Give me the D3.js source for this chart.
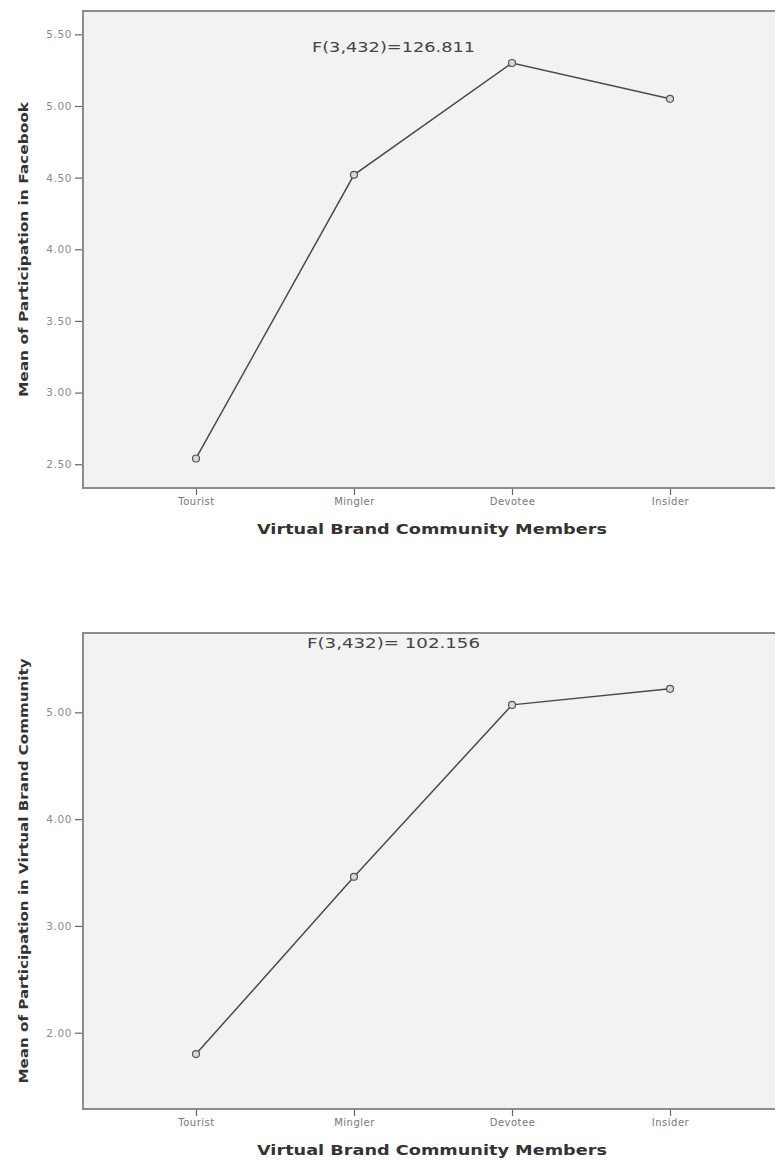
<!DOCTYPE html>
<html>
<head>
<meta charset="utf-8">
<script src="https://cdn.jsdelivr.net/npm/d3@7"></script>
<style>
  html, body { margin: 0; padding: 0; background: #fff; }
  svg { display: block; }
  text { font-family: "DejaVu Sans", Verdana, sans-serif; }
</style>
</head>
<body>
<script>
// ---- data ----
const categories = ["Tourist", "Mingler", "Devotee", "Insider"];
const facebookMeans = [2.54, 4.52, 5.30, 5.05];
const communityMeans = [1.80, 3.46, 5.07, 5.22];
const facebookTicks = [2.5, 3.0, 3.5, 4.0, 4.5, 5.0, 5.5];
const communityTicks = [2.0, 3.0, 4.0, 5.0];
const xTitle = "Virtual Brand Community Members";
const facebookYTitle = "Mean of Participation in Facebook";
const communityYTitle = "Mean of Participation in Virtual Brand Community";
const facebookStat = "F(3,432)=126.811";
const communityStat = "F(3,432)= 102.156";

const W = 775, H = 1160;
const svg = d3.select("body").append("svg").attr("width", W).attr("height", H);

function drawChart(cfg) {
  const g = svg.append("g");
  const left = 83, right = 783;
  const x = d3.scalePoint().domain(categories).range([left, right]).padding(0.715);
  const y = d3.scaleLinear().domain(cfg.yDomain).range([cfg.bottom, cfg.top]);

  // plot background + frame
  g.append("rect")
    .attr("x", left).attr("y", cfg.top)
    .attr("width", right - left).attr("height", cfg.bottom - cfg.top)
    .attr("fill", "#f2f2f2").attr("stroke", "#8c8c8c").attr("stroke-width", 2);

  // y axis
  const ya = g.append("g").attr("transform", `translate(${left - 1},0)`)
    .call(d3.axisLeft(y).tickValues(cfg.ticks).tickFormat(d3.format(".2f")).tickSize(7).tickPadding(3));
  ya.select(".domain").remove();
  ya.selectAll(".tick line").attr("stroke", "#666").attr("stroke-width", 1.2);
  ya.selectAll(".tick text").attr("fill", "#8a8a8a").style("font-size", "10.5px")
    .style("letter-spacing", "0.6px");

  // x axis
  const xa = g.append("g").attr("transform", `translate(0,${cfg.bottom + 1})`)
    .call(d3.axisBottom(x).tickSize(6).tickPadding(3));
  xa.select(".domain").remove();
  xa.selectAll(".tick line").attr("stroke", "#666").attr("stroke-width", 1.2);
  xa.selectAll(".tick text").attr("fill", "#777").style("font-size", "10px")
    .style("letter-spacing", "0.5px");

  // x title
  g.append("text")
    .attr("x", 432).attr("y", cfg.bottom + 46)
    .attr("text-anchor", "middle")
    .attr("fill", "#333").style("font-size", "13.5px").style("font-weight", "bold")
    .attr("textLength", 350).attr("lengthAdjust", "spacingAndGlyphs")
    .text(xTitle);

  // y title
  const cy = (cfg.top + cfg.bottom) / 2;
  g.append("text")
    .attr("transform", `translate(28,${cy}) rotate(-90)`)
    .attr("text-anchor", "middle")
    .attr("fill", "#333").style("font-size", "13px").style("font-weight", "bold")
    .attr("textLength", cfg.yTitleLen).attr("lengthAdjust", "spacingAndGlyphs")
    .text(cfg.yTitle);

  // line
  const pts = categories.map((c, i) => [x(c), y(cfg.values[i])]);
  g.append("path")
    .attr("d", d3.line()(pts))
    .attr("fill", "none").attr("stroke", "#4a4a4a").attr("stroke-width", 1.5);

  g.selectAll("circle.pt").data(pts).join("circle")
    .attr("class", "pt")
    .attr("cx", d => d[0]).attr("cy", d => d[1]).attr("r", 3.5)
    .attr("fill", "#d8d8d8").attr("stroke", "#555").attr("stroke-width", 1.2);

  // stat annotation
  g.append("text")
    .attr("x", cfg.statX).attr("y", cfg.statY)
    .attr("fill", "#444").style("font-size", "14px")
    .attr("textLength", cfg.statLen).attr("lengthAdjust", "spacingAndGlyphs")
    .text(cfg.stat);
}

drawChart({
  top: 11, bottom: 488, yDomain: [2.334, 5.663], ticks: facebookTicks,
  values: facebookMeans, yTitle: facebookYTitle, yTitleLen: 295,
  stat: facebookStat, statX: 312, statY: 52, statLen: 163
});

drawChart({
  top: 633, bottom: 1109, yDomain: [1.286, 5.743], ticks: communityTicks,
  values: communityMeans, yTitle: communityYTitle, yTitleLen: 425,
  stat: communityStat, statX: 307, statY: 648, statLen: 173
});
</script>
</body>
</html>
